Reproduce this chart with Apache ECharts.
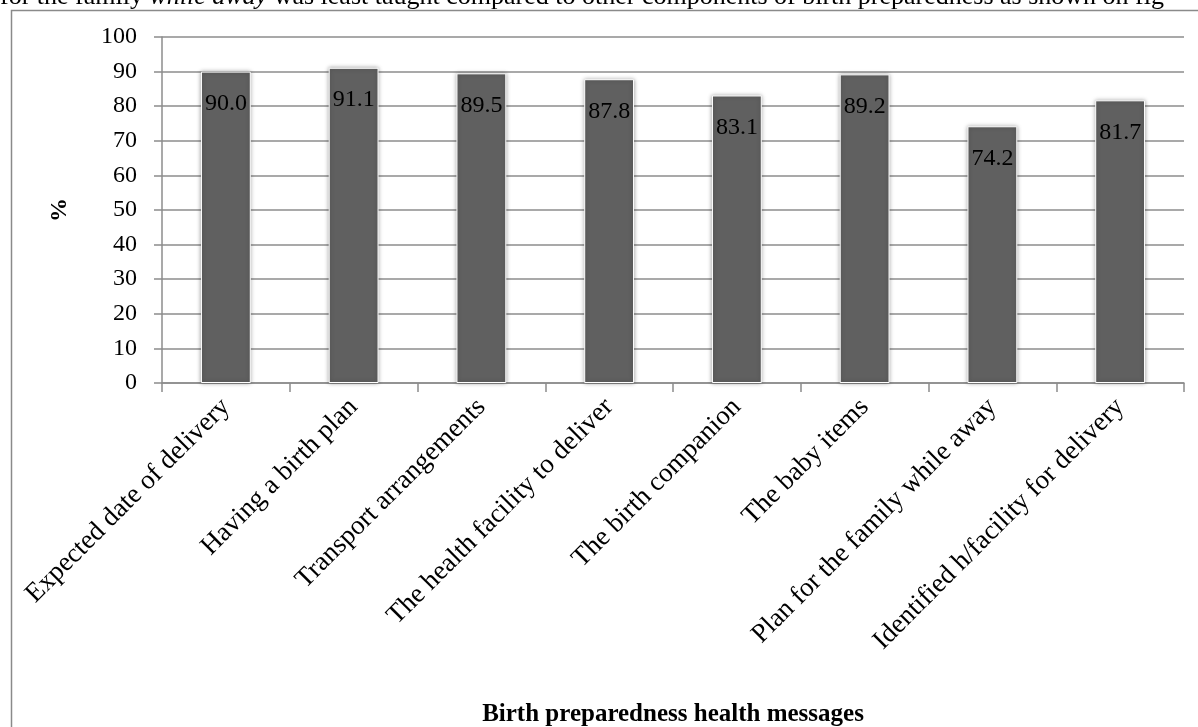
<!DOCTYPE html>
<html>
<head>
<meta charset="utf-8">
<script src="https://cdn.jsdelivr.net/npm/echarts@6/dist/echarts.min.js"></script>
<style>
  html, body { margin: 0; padding: 0; background: #fff; }
  #chart { width: 1198px; height: 727px; }
</style>
</head>
<body>
<div id="chart"></div>
<script>
// Birth preparedness messages received (%)
const categories = [
  'Expected date of delivery',
  'Having a birth plan',
  'Transport arrangements',
  'The health facility to deliver',
  'The birth companion',
  'The baby items',
  'Plan for the family while away',
  'Identified h/facility for delivery'
];
const percentages = [90.0, 91.1, 89.5, 87.8, 83.1, 89.2, 74.2, 81.7];
const yTicks = { min: 0, max: 100, interval: 10 };

const serif = '"Liberation Serif", "DejaVu Serif", serif';
const chart = echarts.init(document.getElementById('chart'));

chart.setOption({
  animation: false,
  backgroundColor: '#fff',
  graphic: [
    {
      type: 'text',
      left: 0,
      top: -16,
      style: {
        text: '{r|for the family }{i|while away}{r| was least taught compared to other components of birth preparedness as shown on fig}',
        rich: {
          r: { font: '26px ' + serif, fill: '#000' },
          i: { font: 'italic 26px ' + serif, fill: '#000' }
        }
      }
    },
    {
      type: 'rect',
      shape: { x: 11.5, y: 10.5, width: 1300, height: 800 },
      style: { fill: 'none', stroke: '#8a8a8a', lineWidth: 1.5 },
      z: -1
    }
  ],
  grid: {
    left: 162, right: 14, top: 37, bottom: 344,
    containLabel: false,
    outerBoundsMode: 'none'
  },
  xAxis: {
    type: 'category',
    data: categories,
    name: 'Birth preparedness health messages',
    nameLocation: 'middle',
    nameGap: 319,
    nameTextStyle: { fontFamily: serif, fontWeight: 'bold', fontSize: 25, color: '#000' },
    axisLine: { show: true, lineStyle: { color: '#8c8c8c', width: 1.5 } },
    axisTick: { show: true, alignWithLabel: false, length: 9, lineStyle: { color: '#8c8c8c', width: 1.5 } },
    axisLabel: {
      rotate: 45,
      interval: 0,
      margin: 20,
      fontFamily: serif,
      fontSize: 27,
      color: '#000'
    }
  },
  yAxis: {
    type: 'value',
    min: yTicks.min,
    max: yTicks.max,
    interval: yTicks.interval,
    name: '%',
    nameLocation: 'middle',
    nameGap: 90,
    nameRotate: 90,
    nameTextStyle: { fontFamily: serif, fontWeight: 'bold', fontSize: 24, color: '#000' },
    axisLine: { show: true, lineStyle: { color: '#8c8c8c', width: 1.5 } },
    axisTick: { show: true, length: 8, lineStyle: { color: '#8c8c8c', width: 1.5 } },
    axisLabel: { margin: 25, fontFamily: serif, fontSize: 24, color: '#000' },
    splitLine: { show: true, lineStyle: { color: '#8c8c8c', width: 1.5 } }
  },
  series: [{
    type: 'bar',
    data: percentages,
    barWidth: '39%',
    itemStyle: {
      color: '#606060',
      borderColor: '#ffffff',
      borderWidth: 1,
      shadowBlur: 4,
      shadowColor: 'rgba(0,0,0,0.35)'
    },
    label: {
      show: true,
      position: 'insideTop',
      distance: 20,
      formatter: p => p.value.toFixed(1),
      fontFamily: serif,
      fontSize: 24,
      color: '#000'
    }
  }]
});
</script>
</body>
</html>
